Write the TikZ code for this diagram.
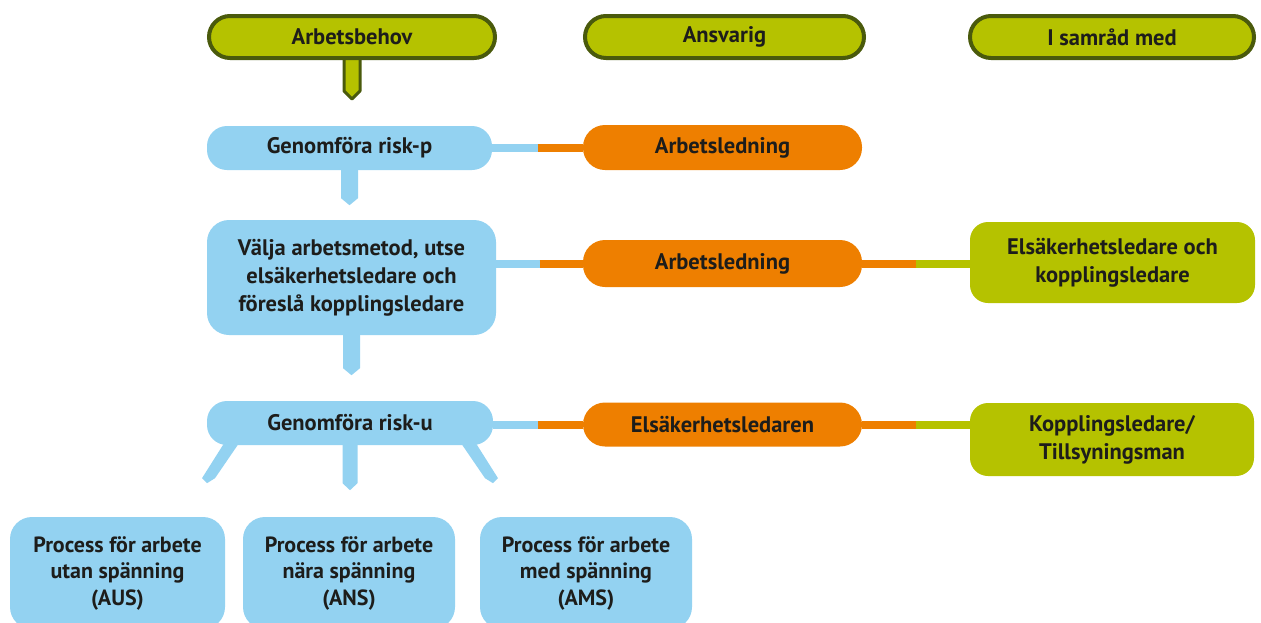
\documentclass[tikz,border=0pt]{standalone}
\usepackage{fontspec}
\setmainfont{PT Sans}
\usetikzlibrary{backgrounds}
\definecolor{lblue}{HTML}{93D2F1}
\definecolor{orng}{HTML}{EE7F00}
\definecolor{lgrn}{HTML}{B5C200}
\definecolor{dgrn}{HTML}{4A5A0C}
\definecolor{txt}{HTML}{1D1D1B}
\begin{document}
\begin{tikzpicture}[x=1pt,y=-1pt,
  every node/.style={text=txt, font=\bfseries\fontsize{22.5}{28}\selectfont, align=center, inner sep=0pt},
  hdr/.style={draw=dgrn, line width=4pt, fill=lgrn, rounded corners=21pt, minimum height=42pt},
  bbox/.style={fill=lblue, rounded corners=#1},
  obox/.style={fill=orng, rounded corners=22pt},
  gbox/.style={fill=lgrn, rounded corners=18pt},
  blline/.style={draw=lblue, line width=8pt},
  orline/.style={draw=orng, line width=8pt},
  grline/.style={draw=lgrn, line width=8pt},
  bltab/.style={fill=lblue},
  small/.style={font=\bfseries\fontsize{22}{26.5}\selectfont}
]
\useasboundingbox (0,0) rectangle (1261,622);

% headers
\node[hdr, minimum width=286pt] (ab) at (352,37) {Arbetsbehov};
\node[hdr, minimum width=279pt] (ans) at (724.5,37) {Ansvarig};
\node[hdr, minimum width=284pt] (isam) at (1112,37) {I samråd med};
\begin{pgfonlayer}{background}
\draw[line width=3pt, draw=dgrn, fill=lgrn, line join=round]
  ([shift={(-8,-10)}]ab.south) -- ([shift={(-8,31)}]ab.south) -- ([shift={(0,39)}]ab.south)
  -- ([shift={(8,31)}]ab.south) -- ([shift={(8,-10)}]ab.south) -- cycle;
\end{pgfonlayer}

% blue process boxes
\node[bbox=20pt, minimum width=285pt, minimum height=44pt] (rp) at (349.5,148) {Genomföra risk-p};
\node[bbox=22pt, minimum width=289pt, minimum height=115pt] (va) at (351.5,277.5) {\raisebox{3pt}{\begin{tabular}{@{}c@{}}Välja arbetsmetod, utse\\elsäkerhetsledare och\\föreslå kopplingsledare\end{tabular}}};
\node[bbox=20pt, minimum width=286pt, minimum height=44pt] (ru) at (350,423) {Genomföra risk-u};
\node[small, bbox=22pt, minimum width=215pt, minimum height=112pt] (aus) at (117.5,573) {Process för arbete\\utan spänning\\(AUS)};
\node[small, bbox=22pt, minimum width=212pt, minimum height=112pt] (ans2) at (349,573) {Process för arbete\\nära spänning\\(ANS)};
\node[small, bbox=22pt, minimum width=212pt, minimum height=112pt] (ams) at (586,573) {Process för arbete\\med spänning\\(AMS)};

% blue tabs
\fill[bltab] ([shift={(-8.5,-5)}]rp.south) -- ([shift={(-8.5,28)}]rp.south) -- ([shift={(0,35)}]rp.south)
  -- ([shift={(8.5,28)}]rp.south) -- ([shift={(8.5,-5)}]rp.south) -- cycle;
\fill[bltab] ([shift={(-8.5,-5)}]va.south) -- ([shift={(-8.5,33)}]va.south) -- ([shift={(0,40)}]va.south)
  -- ([shift={(8.5,33)}]va.south) -- ([shift={(8.5,-5)}]va.south) -- cycle;
\fill[bltab] ([shift={(-7.5,-5)}]ru.south) -- ([shift={(-7.5,38)}]ru.south) -- ([shift={(0,45)}]ru.south)
  -- ([shift={(7.5,38)}]ru.south) -- ([shift={(7.5,-5)}]ru.south) -- cycle;
\fill[bltab] ([shift={(-124,-5)}]ru.south) -- ([shift={(-109,-5)}]ru.south) -- ([shift={(-135,33)}]ru.south)
  -- ([shift={(-143,38)}]ru.south) -- ([shift={(-148,33)}]ru.south) -- cycle;
\fill[bltab] ([shift={(124,-5)}]ru.south) -- ([shift={(109,-5)}]ru.south) -- ([shift={(135,33)}]ru.south)
  -- ([shift={(143,38)}]ru.south) -- ([shift={(148,33)}]ru.south) -- cycle;

% orange boxes
\node[obox, minimum width=279pt, minimum height=45pt] (al1) at (722.5,147.5) {Arbetsledning};
\node[obox, minimum width=279pt, minimum height=47pt] (al2) at (722.5,263.5) {Arbetsledning};
\node[obox, minimum width=279pt, minimum height=44pt] (el) at (722.5,424.5) {Elsäkerhetsledaren};

% green boxes
\node[gbox, minimum width=285pt, minimum height=81pt] (ek) at (1112.5,262.5) {Elsäkerhetsledare och\\kopplingsledare};
\node[gbox, minimum width=284pt, minimum height=73pt] (kt) at (1112,439.5) {Kopplingsledare/\\Tillsyningsman};

% connectors
\begin{pgfonlayer}{background}
\path (rp.east |- al1.west) -- (al1.west) coordinate[pos=.5] (m1);
\draw[blline] (rp.east |- al1.west) -- (m1);
\draw[orline] (m1) -- (al1.west);

\path (va.east |- al2.west) -- (al2.west) coordinate[pos=.5] (m2);
\draw[blline] (va.east |- al2.west) -- (m2);
\draw[orline] (m2) -- (al2.west);
\path (al2.east) -- (al2.east -| ek.west) coordinate[pos=.5] (m3);
\draw[orline] (al2.east) -- (m3);
\draw[grline] (m3) -- (al2.east -| ek.west);

\path (ru.east |- el.west) -- (el.west) coordinate[pos=.5] (m4);
\draw[blline] (ru.east |- el.west) -- (m4);
\draw[orline] (m4) -- (el.west);
\path (el.east) -- (el.east -| kt.west) coordinate[pos=.5] (m5);
\draw[orline] (el.east) -- (m5);
\draw[grline] (m5) -- (el.east -| kt.west);
\end{pgfonlayer}
\end{tikzpicture}
\end{document}
